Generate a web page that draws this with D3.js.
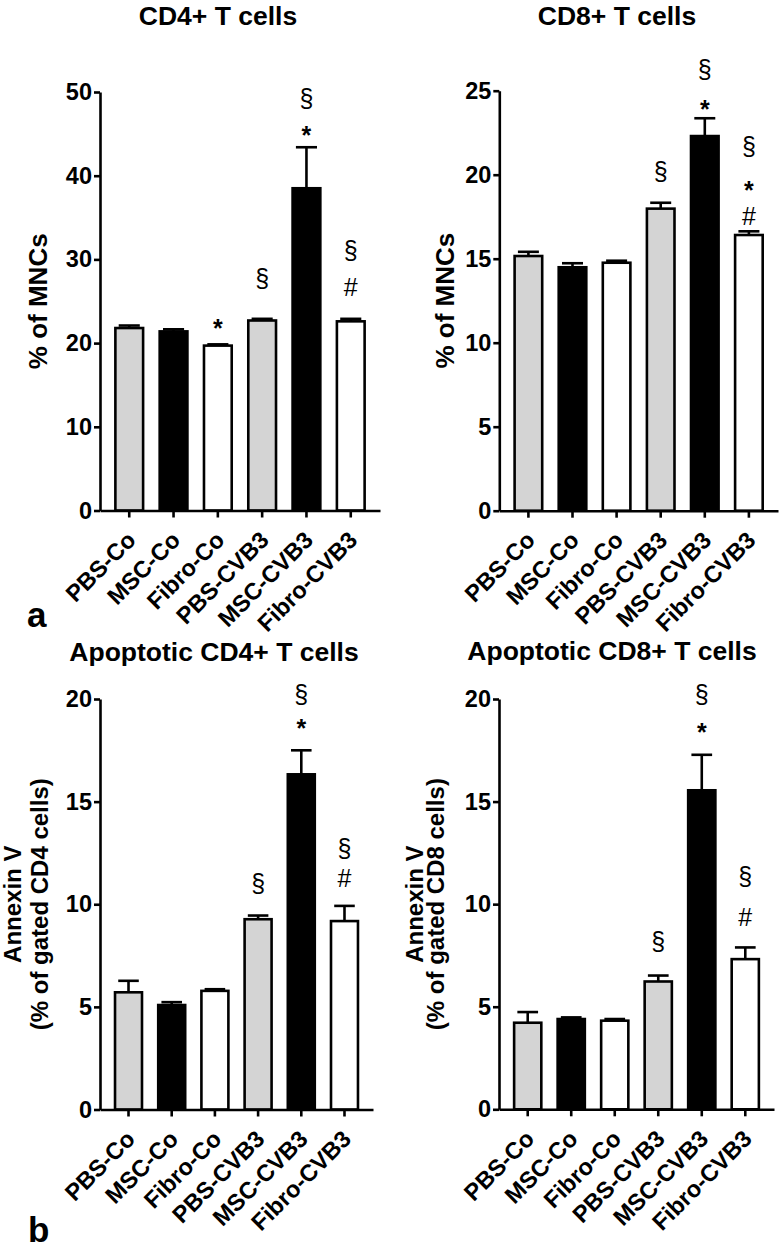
<!DOCTYPE html>
<html>
<head>
<meta charset="utf-8">
<script src="https://cdn.jsdelivr.net/npm/d3@7"></script>
<style>
  html, body { margin: 0; padding: 0; background: #fff; }
  svg { display: block; font-family: "Liberation Sans", Arial, sans-serif; }
</style>
</head>
<body>
<svg id="chart" width="784" height="1248"></svg>
<script>
// ---------------- data ----------------
const categories = ["PBS-Co", "MSC-Co", "Fibro-Co", "PBS-CVB3", "MSC-CVB3", "Fibro-CVB3"];

const cd4Mean = [21.8, 21.4, 19.7, 22.7, 38.5, 22.6];
const cd4Err  = [0.3, 0.25, 0.15, 0.2, 4.9, 0.3];
const cd4Ticks = [0, 10, 20, 30, 40, 50];
const cd4Notes = [
  { cat: "Fibro-Co", sym: "*", y: 22.4 },
  { cat: "PBS-CVB3", sym: "§", y: 27.5 },
  { cat: "MSC-CVB3", sym: "*", y: 45.5 },
  { cat: "MSC-CVB3", sym: "§", y: 49.0 },
  { cat: "Fibro-CVB3", sym: "#", y: 26.7 },
  { cat: "Fibro-CVB3", sym: "§", y: 30.8 }
];

const cd8Mean = [15.16, 14.49, 14.76, 17.98, 22.30, 16.41];
const cd8Err  = [0.25, 0.24, 0.12, 0.35, 1.06, 0.22];
const cd8Ticks = [0, 5, 10, 15, 20, 25];
const cd8Notes = [
  { cat: "PBS-CVB3", sym: "§", y: 20.10 },
  { cat: "MSC-CVB3", sym: "*", y: 24.2 },
  { cat: "MSC-CVB3", sym: "§", y: 26.15 },
  { cat: "Fibro-CVB3", sym: "#", y: 17.55 },
  { cat: "Fibro-CVB3", sym: "*", y: 19.4 },
  { cat: "Fibro-CVB3", sym: "§", y: 21.6 }
];

const apo4Mean = [5.71, 5.09, 5.78, 9.27, 16.33, 9.18];
const apo4Err  = [0.56, 0.14, 0.08, 0.18, 1.17, 0.74];
const apo4Ticks = [0, 5, 10, 15, 20];
const apo4Notes = [
  { cat: "PBS-CVB3", sym: "§", y: 10.93 },
  { cat: "MSC-CVB3", sym: "*", y: 18.85 },
  { cat: "MSC-CVB3", sym: "§", y: 20.13 },
  { cat: "Fibro-CVB3", sym: "#", y: 11.27 },
  { cat: "Fibro-CVB3", sym: "§", y: 12.63 }
];

const apo8Mean = [4.22, 4.40, 4.32, 6.23, 15.55, 7.32];
const apo8Err  = [0.52, 0.08, 0.08, 0.29, 1.73, 0.57];
const apo8Ticks = [0, 5, 10, 15, 20];
const apo8Notes = [
  { cat: "PBS-CVB3", sym: "§", y: 8.08 },
  { cat: "MSC-CVB3", sym: "*", y: 18.65 },
  { cat: "MSC-CVB3", sym: "§", y: 20.13 },
  { cat: "Fibro-CVB3", sym: "#", y: 9.37 },
  { cat: "Fibro-CVB3", sym: "§", y: 11.27 }
];

// ---------------- drawing ----------------
const svg = d3.select("#chart");
const FONT = "Liberation Sans, Arial, sans-serif";
const fillScale = d3.scaleOrdinal().domain(categories)
  .range(["#d4d4d4", "#000000", "#ffffff", "#d4d4d4", "#000000", "#ffffff"]);
const noteSize = 25;
const symOffset = { "§": 0.27 * noteSize, "*": 0.57 * noteSize, "#": 0.36 * noteSize };

function panel(cfg) {
  const g = svg.append("g");
  const x = d3.scaleBand().domain(categories).range([cfg.x0, cfg.x1])
    .paddingInner(0.32).paddingOuter(0.32);
  const y = d3.scaleLinear().domain([0, cfg.max]).range([cfg.y0, cfg.yTop]);
  const data = categories.map((c, i) => ({ c, m: cfg.mean[i], e: cfg.err[i] }));

  // bars
  g.selectAll("rect.bar").data(data).enter().append("rect")
    .attr("x", d => x(d.c) + 1.2)
    .attr("width", x.bandwidth() - 2.4)
    .attr("y", d => y(d.m))
    .attr("height", d => y(0) - y(d.m))
    .attr("fill", d => fillScale(d.c))
    .attr("stroke", "#000").attr("stroke-width", 2.6);

  // error bars (upper only)
  const capW = x.bandwidth() * 0.7;
  g.selectAll("line.err").data(data).enter().append("line")
    .attr("x1", d => x(d.c) + x.bandwidth() / 2).attr("x2", d => x(d.c) + x.bandwidth() / 2)
    .attr("y1", d => y(d.m)).attr("y2", d => y(d.m + d.e))
    .attr("stroke", "#000").attr("stroke-width", 2.6);
  g.selectAll("line.cap").data(data).enter().append("line")
    .attr("x1", d => x(d.c) + x.bandwidth() / 2 - capW / 2)
    .attr("x2", d => x(d.c) + x.bandwidth() / 2 + capW / 2)
    .attr("y1", d => y(d.m + d.e)).attr("y2", d => y(d.m + d.e))
    .attr("stroke", "#000").attr("stroke-width", 2.6);

  // y axis
  const ya = g.append("g").attr("transform", `translate(${cfg.x0},0)`)
    .call(d3.axisLeft(y).tickValues(cfg.ticks).tickSize(6).tickPadding(2).tickSizeOuter(0));
  ya.select(".domain").attr("stroke-width", 2.6);
  ya.selectAll(".tick line").attr("stroke-width", 2.6);
  ya.selectAll(".tick text").attr("font-size", 23.5).attr("font-weight", "bold")
    .attr("fill", "#000").attr("font-family", FONT);

  // x axis
  const xa = g.append("g").attr("transform", `translate(0,${cfg.y0})`)
    .call(d3.axisBottom(x).tickSize(7).tickSizeOuter(0));
  xa.select(".domain").attr("stroke-width", 2.6);
  xa.selectAll(".tick line").attr("stroke-width", 2.6);
  xa.selectAll(".tick text")
    .attr("font-size", 23.5).attr("font-weight", "bold").attr("fill", "#000")
    .attr("font-family", FONT)
    .attr("text-anchor", "end")
    .attr("y", 0).attr("dy", 0)
    .attr("transform", "translate(8,31) rotate(-45)");

  // annotations
  g.selectAll("text.note").data(cfg.notes).enter().append("text")
    .attr("x", d => x(d.cat) + x.bandwidth() / 2)
    .attr("y", d => y(d.y) + symOffset[d.sym])
    .attr("text-anchor", "middle")
    .attr("font-size", noteSize)
    .attr("font-weight", d => d.sym === "*" ? "bold" : "normal")
    .text(d => d.sym);

  // title
  g.append("text").attr("x", cfg.titleX).attr("y", cfg.titleY)
    .attr("text-anchor", "middle").attr("font-size", 26.5).attr("font-weight", "bold")
    .text(cfg.title);

  // y label
  const cy = (cfg.y0 + cfg.yTop) / 2;
  cfg.ylab.forEach((t, i) => {
    g.append("text")
      .attr("transform", `translate(${cfg.ylabX[i]},${cy}) rotate(-90)`)
      .attr("text-anchor", "middle").attr("font-size", cfg.ylabSize).attr("font-weight", "bold")
      .text(t);
  });
}

panel({ x0: 100, x1: 380, y0: 510.5, yTop: 92, max: 50, mean: cd4Mean, err: cd4Err,
  ticks: cd4Ticks, notes: cd4Notes, title: "CD4+ T cells", titleX: 218, titleY: 25,
  ylab: ["% of MNCs"], ylabX: [47], ylabSize: 26 });
panel({ x0: 499.3, x1: 778, y0: 510.7, yTop: 90.7, max: 25, mean: cd8Mean, err: cd8Err,
  ticks: cd8Ticks, notes: cd8Notes, title: "CD8+ T cells", titleX: 617, titleY: 25,
  ylab: ["% of MNCs"], ylabX: [454], ylabSize: 26 });
panel({ x0: 100, x1: 373, y0: 1109.5, yTop: 699, max: 20, mean: apo4Mean, err: apo4Err,
  ticks: apo4Ticks, notes: apo4Notes, title: "Apoptotic CD4+ T cells", titleX: 214, titleY: 661,
  ylab: ["Annexin V", "(% of gated CD4 cells)"], ylabX: [21, 48], ylabSize: 24 });
panel({ x0: 499, x1: 774, y0: 1109.3, yTop: 699, max: 20, mean: apo8Mean, err: apo8Err,
  ticks: apo8Ticks, notes: apo8Notes, title: "Apoptotic CD8+ T cells", titleX: 612, titleY: 660,
  ylab: ["Annexin V", "(% of gated CD8 cells)"], ylabX: [423, 444], ylabSize: 24 });

// panel letters
svg.append("text").attr("x", 27).attr("y", 627).attr("font-size", 35).attr("font-weight", "bold").text("a");
svg.append("text").attr("x", 28).attr("y", 1242).attr("font-size", 35).attr("font-weight", "bold").text("b");
</script>
</body>
</html>
